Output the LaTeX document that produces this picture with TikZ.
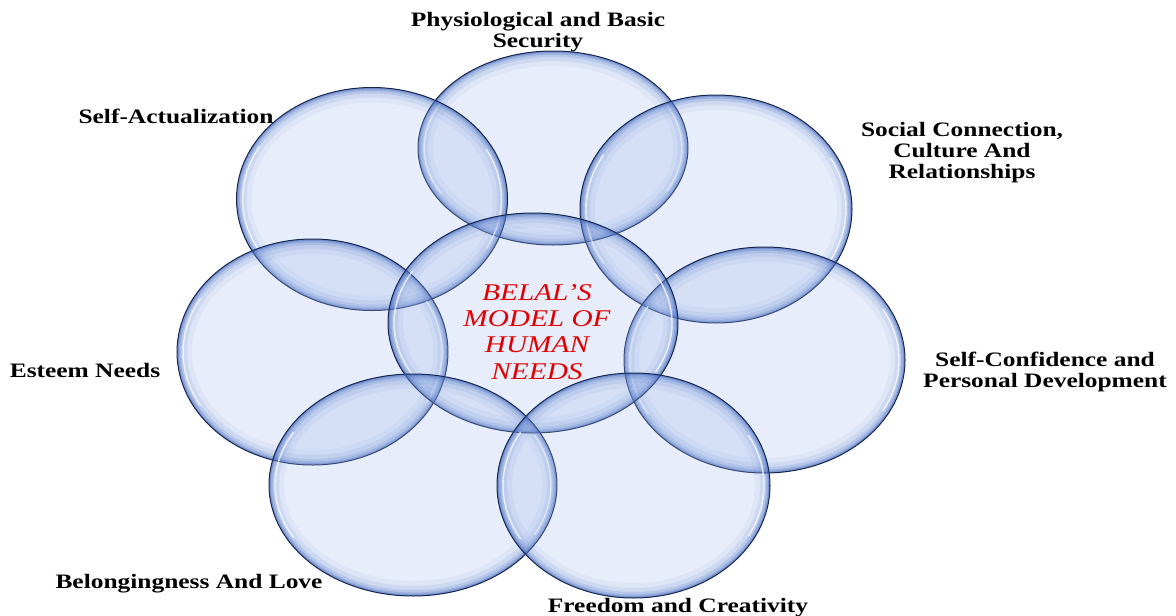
\documentclass[tikz,border=0pt]{standalone}
\usepackage{fontspec}
\usepackage{graphicx}
\setmainfont{Liberation Serif}
\definecolor{bubblebase}{RGB}{160,185,235}
\definecolor{rimblue}{RGB}{52,94,186}
\definecolor{edgenavy}{RGB}{22,38,78}
\definecolor{titlered}{RGB}{226,0,0}

% wide setting of the label text
\newcommand\wide[1]{\scalebox{1.24}[1]{#1}}
\newcommand\wider[1]{\scalebox{1.22}[1]{#1}}

% one glassy bubble: name, centre, x radius, y radius
\newcommand\bubble[4]{%
  \coordinate (#1) at #2;
  \fill[bubblebody] (#1) ellipse [x radius=#3, y radius=#4];
  \begin{scope}
    \clip (#1) ellipse [x radius=#3, y radius=#4];
    \foreach \w/\o in {30/0.06, 20/0.09, 12/0.14, 7/0.22, 3.5/0.32}
      \draw[draw=rimblue, draw opacity=\o, line width=\w pt]
        (#1) ellipse [x radius=#3, y radius=#4];
  \end{scope}
  \draw[shine, shift={(#1)}] ({(#3-6)*cos(150)},{(#4-6)*sin(150)})
    arc [start angle=150, end angle=210, x radius=#3-6, y radius=#4-6];
  \draw[shine, shift={(#1)}] ({(#3-6)*cos(-28)},{(#4-6)*sin(-28)})
    arc [start angle=-28, end angle=28, x radius=#3-6, y radius=#4-6];
  \draw[bubbleedge] (#1) ellipse [x radius=#3, y radius=#4];
}

\tikzset{
  bubblebody/.style={fill=bubblebase, fill opacity=0.25},
  bubbleedge/.style={draw=edgenavy, line width=1pt},
  shine/.style={draw=white, line width=1.4pt, draw opacity=0.75, line cap=round},
  needlabel/.style={anchor=base, align=center, inner sep=0pt,
    font=\fontsize{20.5}{21}\selectfont\bfseries},
  modellabel/.style={anchor=base, align=center, inner sep=0pt, text=titlered,
    font=\fontsize{24}{26.3}\selectfont\itshape},
}

\begin{document}
\begin{tikzpicture}[x=1pt, y=-1pt]
  \useasboundingbox (0,0) rectangle (1176,616);

  % the eight overlapping need bubbles
  \bubble{phys}{(553,148)}{135}{97}
  \bubble{selfact}{(372,199)}{135.5}{111.5}
  \bubble{social}{(716,209)}{136}{114}
  \bubble{esteem}{(312.5,352)}{135.5}{113}
  \bubble{selfconf}{(764.5,360)}{140.5}{113}
  \bubble{model}{(533,323)}{145}{110}
  \bubble{belong}{(413,485)}{144}{111}
  \bubble{freedom}{(633.5,485.5)}{136.5}{112.5}

  % central title (base anchor sits on the last line)
  \node[modellabel] (title) at (537,379)
    {\wider{BELAL'S}\\\wider{MODEL OF}\\\wider{HUMAN}\\\wider{NEEDS}};

  % need labels
  \node[needlabel] (lphys) at (538,47)
    {\wide{Physiological and Basic}\\\wide{Security}};
  \node[needlabel] (lselfact) at (176,123) {\wide{Self-Actualization}};
  \node[needlabel] (lsocial) at (962,178)
    {\wide{Social Connection,}\\\wide{Culture And}\\\wide{Relationships}};
  \node[needlabel] (lesteem) at (85,377) {\wide{Esteem Needs}};
  \node[needlabel] (lselfconf) at (1045,387)
    {\wide{Self-Confidence and}\\\wide{Personal Development}};
  \node[needlabel] (lbelong) at (189,588) {\wide{Belongingness And Love}};
  \node[needlabel] (lfreedom) at (678,612) {\wide{Freedom and Creativity}};
\end{tikzpicture}
\end{document}
